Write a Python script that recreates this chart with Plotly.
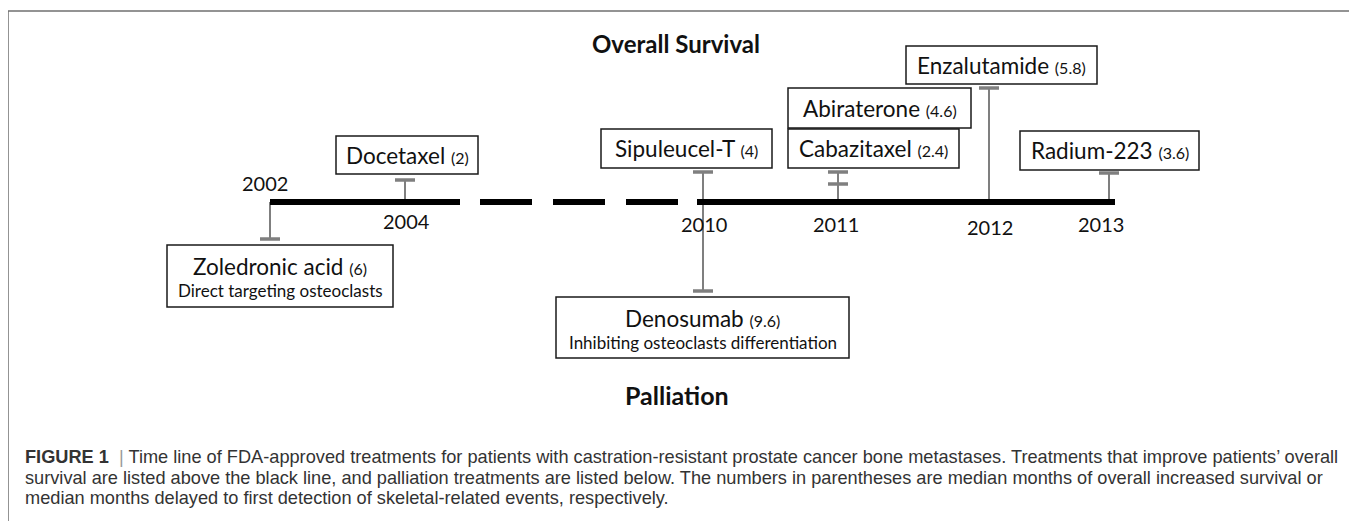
import plotly.graph_objects as go

# ---------------- data ----------------
treatments = ["Zoledronic acid", "Docetaxel", "Sipuleucel-T", "Denosumab",
              "Cabazitaxel", "Abiraterone", "Enzalutamide", "Radium-223"]
median_months = ["6", "2", "4", "9.6", "2.4", "4.6", "5.8", "3.6"]
approval_year = [2002, 2004, 2010, 2010, 2011, 2011, 2012, 2013]
benefit = ["Palliation", "Overall Survival", "Overall Survival", "Palliation",
           "Overall Survival", "Overall Survival", "Overall Survival", "Overall Survival"]
mechanism = ["Direct targeting osteoclasts", "", "", "Inhibiting osteoclasts differentiation",
             "", "", "", ""]
year_labels = ["2002", "2004", "2010", "2011", "2012", "2013"]

caption_lines = [
    "<b>FIGURE 1</b>  <span style='color:#9a9a9a'>|</span> Time line of FDA-approved treatments for patients with castration-resistant prostate cancer bone metastases. Treatments that improve patients\u2019 overall",
    "survival are listed above the black line, and palliation treatments are listed below. The numbers in parentheses are median months of overall increased survival or",
    "median months delayed to first detection of skeletal-related events, respectively.",
]

# ---------------- layout geometry (schematic, pixel space) ----------------
W, H = 1357, 521
OFF = 8  # page body margin compensation
LINE_Y = 202
year_x = {2002: 270, 2004: 405, 2010: 703, 2011: 838, 2012: 989, 2013: 1109}
label_pos = {"2002": (265, 183), "2004": (406, 221), "2010": (704, 224),
             "2011": (836, 224), "2012": (990, 227), "2013": (1101, 224)}
# box: x0, x1, y0, y1 ; cap y positions
boxes = {
    "Zoledronic acid": ((167, 393, 245, 307), [239]),
    "Docetaxel": ((336, 478, 136, 174), [180]),
    "Sipuleucel-T": ((601, 772, 129, 168), [172]),
    "Denosumab": ((556, 849, 297, 358), [291]),
    "Cabazitaxel": ((788, 959, 129, 168), [172]),
    "Abiraterone": ((788, 971, 88, 128), [184]),
    "Enzalutamide": ((906, 1097, 46, 84), [88]),
    "Radium-223": ((1020, 1199, 131, 170), [173]),
}

FONT = "Lato"
GRAY = "#7f7f7f"
TXT = "#111"

fig = go.Figure()

# timeline: solid, dashed gap, solid
fig.add_trace(go.Scatter(x=[year_x[2002], 460], y=[LINE_Y, LINE_Y], mode="lines",
                         line=dict(color="black", width=6), hoverinfo="skip", showlegend=False))
fig.add_trace(go.Scatter(x=[480, 678], y=[LINE_Y, LINE_Y], mode="lines",
                         line=dict(color="black", width=6, dash="52px,21px"),
                         hoverinfo="skip", showlegend=False))
fig.add_trace(go.Scatter(x=[697, 1115], y=[LINE_Y, LINE_Y], mode="lines",
                         line=dict(color="black", width=6), hoverinfo="skip", showlegend=False))

shapes = []
annotations = []

# outer frame
shapes.append(dict(type="rect", xref="x", yref="y", x0=8, x1=1353, y0=11, y1=540,
                   line=dict(color="#707070", width=1.5), fillcolor="rgba(0,0,0,0)", layer="below"))

for name, months, yr, ben, mech in zip(treatments, median_months, approval_year, benefit, mechanism):
    (x0, x1, y0, y1), caps = boxes[name]
    sx = year_x[yr]
    far = min(caps) if ben == "Overall Survival" else max(caps)
    shapes.append(dict(type="line", xref="x", yref="y", x0=sx, x1=sx, y0=LINE_Y, y1=far,
                       line=dict(color=GRAY, width=2), layer="below"))
    for cy in caps:
        shapes.append(dict(type="line", xref="x", yref="y", x0=sx - 10, x1=sx + 10, y0=cy, y1=cy,
                           line=dict(color=GRAY, width=3.5)))
    shapes.append(dict(type="rect", xref="x", yref="y", x0=x0, x1=x1, y0=y0, y1=y1,
                       line=dict(color="#1a1a1a", width=1.5), fillcolor="white"))
    head = f"{name} <span style='font-size:16px'>({months})</span>"
    if mech:
        annotations.append(dict(x=(x0 + x1) / 2, y=y0 + 21, xref="x", yref="y", text=head,
                                showarrow=False, font=dict(family=FONT, size=22.5, color=TXT),
                                xanchor="center", yanchor="middle"))
        annotations.append(dict(x=(x0 + x1) / 2, y=y0 + 45, xref="x", yref="y", text=mech,
                                showarrow=False, font=dict(family=FONT, size=17, color=TXT),
                                xanchor="center", yanchor="middle"))
    else:
        annotations.append(dict(x=(x0 + x1) / 2, y=(y0 + y1) / 2, xref="x", yref="y", text=head,
                                showarrow=False, font=dict(family=FONT, size=22.5, color=TXT),
                                xanchor="center", yanchor="middle"))

for lab in year_labels:
    lx, ly = label_pos[lab]
    annotations.append(dict(x=lx, y=ly, xref="x", yref="y", text=lab, showarrow=False,
                            font=dict(family=FONT, size=20, color=TXT),
                            xanchor="center", yanchor="middle"))

annotations.append(dict(x=676, y=43, xref="x", yref="y", text="<b>Overall Survival</b>",
                        showarrow=False, font=dict(family=FONT, size=24, color=TXT),
                        xanchor="center", yanchor="middle"))
annotations.append(dict(x=677, y=395, xref="x", yref="y", text="<b>Palliation</b>",
                        showarrow=False, font=dict(family=FONT, size=25, color=TXT),
                        xanchor="center", yanchor="middle"))

for i, line in enumerate(caption_lines):
    annotations.append(dict(x=23, y=457 + i * 20.5, xref="x", yref="y", text=line,
                            showarrow=False, font=dict(family="Liberation Sans", size=18.2, color="#333"),
                            xanchor="left", yanchor="middle"))

fig.update_layout(
    width=W, height=H, margin=dict(l=0, r=0, t=0, b=0),
    paper_bgcolor="white", plot_bgcolor="white",
    xaxis=dict(range=[OFF, W + OFF], visible=False, fixedrange=True),
    yaxis=dict(range=[H + OFF, OFF], visible=False, fixedrange=True),
    shapes=shapes, annotations=annotations, showlegend=False,
)

fig.write_html("out.html", config={"displayModeBar": False})
